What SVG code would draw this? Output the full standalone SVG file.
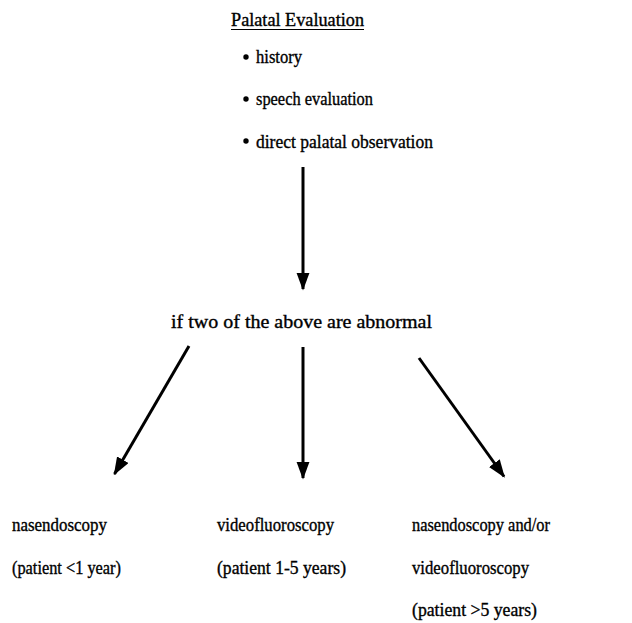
<svg xmlns="http://www.w3.org/2000/svg" width="632" height="623" viewBox="0 0 632 623">
<defs>
<style>
text{font-family:"Liberation Serif","Times New Roman",serif;font-size:18px;fill:#000;stroke:#000;stroke-width:0.35;}
.c{stroke:#000;stroke-width:3;fill:none;}
</style>
<marker id="ah" markerWidth="6" markerHeight="4.4" refX="5.5" refY="2.2" orient="auto" markerUnits="strokeWidth">
<path d="M0,0 L6,2.2 L0,4.4 Z" fill="#000"/>
</marker>
</defs>
<rect width="632" height="623" fill="#fff"/>
<g id="palatal-evaluation">
<text x="231" y="26" textLength="133" lengthAdjust="spacingAndGlyphs">Palatal Evaluation</text>
<line x1="231" y1="29.5" x2="364" y2="29.5" stroke="#000" stroke-width="1"/>
<circle cx="246" cy="57" r="2.7" fill="#000"/>
<text x="256" y="63" textLength="46" lengthAdjust="spacingAndGlyphs">history</text>
<circle cx="246" cy="99" r="2.7" fill="#000"/>
<text x="256" y="105" textLength="117" lengthAdjust="spacingAndGlyphs">speech evaluation</text>
<circle cx="246" cy="141" r="2.7" fill="#000"/>
<text x="256" y="148" textLength="177" lengthAdjust="spacingAndGlyphs">direct palatal observation</text>
</g>
<g id="condition">
<text x="171" y="328" textLength="261" lengthAdjust="spacingAndGlyphs">if two of the above are abnormal</text>
</g>
<g id="nasendoscopy">
<text x="12" y="531" textLength="95" lengthAdjust="spacingAndGlyphs">nasendoscopy</text>
<text x="12" y="574" textLength="109" lengthAdjust="spacingAndGlyphs">(patient &lt;1 year)</text>
</g>
<g id="videofluoroscopy">
<text x="217" y="531" textLength="117" lengthAdjust="spacingAndGlyphs">videofluoroscopy</text>
<text x="217" y="574" textLength="129" lengthAdjust="spacingAndGlyphs">(patient 1-5 years)</text>
</g>
<g id="both">
<text x="412" y="531" textLength="138" lengthAdjust="spacingAndGlyphs">nasendoscopy and/or</text>
<text x="412" y="574" textLength="117" lengthAdjust="spacingAndGlyphs">videofluoroscopy</text>
<text x="412" y="616" textLength="125" lengthAdjust="spacingAndGlyphs">(patient &gt;5 years)</text>
</g>
<g id="connectors">
<line class="c" x1="303" y1="167" x2="303" y2="289" marker-end="url(#ah)"/>
<line class="c" x1="189" y1="346" x2="114.5" y2="474" marker-end="url(#ah)"/>
<line class="c" x1="303" y1="347" x2="303" y2="478" marker-end="url(#ah)"/>
<line class="c" x1="419" y1="358" x2="504" y2="476.5" marker-end="url(#ah)"/>
</g>
</svg>
